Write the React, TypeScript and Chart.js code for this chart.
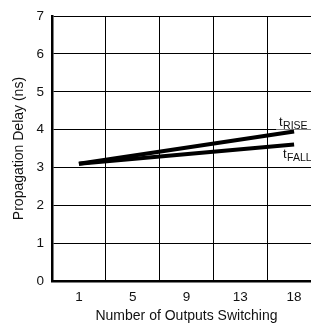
import React, { useEffect, useRef } from "react";
import { Chart, registerables } from "chart.js";

Chart.register(...registerables);

// ---- data ----
const categories = ["1", "5", "9", "13", "18"];
const tRiseValues: (number | null)[] = [3.1, null, null, null, 3.95];
const tFallValues: (number | null)[] = [3.1, null, null, null, 3.61];
const seriesNames = ["RISE", "FALL"];
const yTicks = [0, 1, 2, 3, 4, 5, 6, 7];
const xTitle = "Number of Outputs Switching";
const yTitle = "Propagation Delay (ns)";

const FONT = "'Liberation Sans', Arial, Helvetica, sans-serif";

// label placement relative to each series' end point
const labelStyle = [
  { tdx: -15, tdy: -6, sdx: -11, sdy: -3, bg: { dx: -18, dy: -17, w: 40, h: 15 } },
  { tdx: -11, tdy: 14, sdx: -7, sdy: 17, bg: null },
];

const seriesLabelPlugin = {
  id: "seriesLabels",
  beforeDatasetsDraw(chart: any) {
    const ctx = chart.ctx;
    chart.data.datasets.forEach((ds: any, i: number) => {
      const st = labelStyle[i];
      if (!st || !st.bg) return;
      const meta = chart.getDatasetMeta(i);
      const pt = meta.data[meta.data.length - 1];
      ctx.save();
      ctx.fillStyle = "#fff";
      ctx.fillRect(pt.x + st.bg.dx, pt.y + st.bg.dy, st.bg.w, st.bg.h);
      ctx.restore();
    });
  },
  afterDatasetsDraw(chart: any) {
    const ctx = chart.ctx;
    chart.data.datasets.forEach((ds: any, i: number) => {
      const st = labelStyle[i];
      const meta = chart.getDatasetMeta(i);
      const pt = meta.data[meta.data.length - 1];
      ctx.save();
      ctx.fillStyle = "#111";
      ctx.textBaseline = "alphabetic";
      ctx.textAlign = "left";
      ctx.font = `13px ${FONT}`;
      ctx.fillText("t", pt.x + st.tdx, pt.y + st.tdy);
      ctx.font = `10.5px ${FONT}`;
      ctx.fillText(seriesNames[i], pt.x + st.sdx, pt.y + st.sdy);
      ctx.restore();
    });
  },
};

export default function App() {
  const ref = useRef<HTMLCanvasElement | null>(null);

  useEffect(() => {
    if (!ref.current) return;
    const chart = new Chart(ref.current, {
      type: "line",
      data: {
        labels: categories,
        datasets: [
          {
            label: "tRISE",
            data: tRiseValues,
            borderColor: "#000",
            borderWidth: 4,
            pointRadius: 0,
            spanGaps: true,
            tension: 0,
            fill: false,
          },
          {
            label: "tFALL",
            data: tFallValues,
            borderColor: "#000",
            borderWidth: 4,
            pointRadius: 0,
            spanGaps: true,
            tension: 0,
            fill: false,
          },
        ],
      },
      options: {
        responsive: false,
        animation: false,
        layout: { padding: { left: 0, right: 9, top: 12, bottom: 0 } },
        plugins: {
          legend: { display: false },
          tooltip: { enabled: false },
        },
        scales: {
          x: {
            type: "category",
            offset: true,
            grid: { offset: true, color: "#000", lineWidth: 1, drawTicks: false },
            border: { display: true, color: "#000", width: 2.5 },
            ticks: {
              color: "#111",
              padding: 8,
              font: { family: FONT, size: 13.5 },
              maxRotation: 0,
              autoSkip: false,
            },
            title: {
              display: true,
              text: xTitle,
              color: "#111",
              font: { family: FONT, size: 14 },
              padding: { top: 0, bottom: 4 },
            },
            afterFit: (s: any) => {
              s.height = 48;
            },
          },
          y: {
            min: 0,
            max: 7,
            afterBuildTicks: (s: any) => {
              s.ticks = yTicks.map((v) => ({ value: v }));
            },
            grid: { color: "#000", lineWidth: 1, drawTicks: false },
            border: { display: true, color: "#000", width: 2.5 },
            ticks: {
              color: "#111",
              padding: 8,
              font: { family: FONT, size: 13.5 },
            },
            title: {
              display: true,
              text: yTitle,
              color: "#111",
              font: { family: FONT, size: 14 },
              padding: { top: 11, bottom: 0 },
            },
            afterFit: (s: any) => {
              s.width = 52;
            },
          },
        },
      } as any,
      plugins: [seriesLabelPlugin],
    });
    return () => chart.destroy();
  }, []);

  return (
    <div
      style={{
        position: "fixed",
        left: 0,
        top: 0,
        width: 311,
        height: 329,
        overflow: "hidden",
        background: "#fff",
      }}
    >
      <canvas ref={ref} width={330} height={329} style={{ display: "block" }} />
    </div>
  );
}
